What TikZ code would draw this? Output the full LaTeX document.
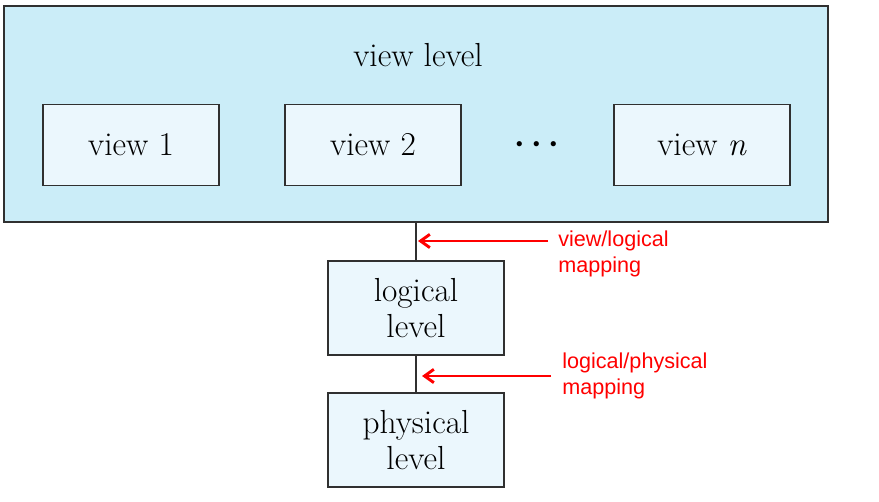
\documentclass[tikz,border=0pt]{standalone}
\usepackage{fontspec}
\newfontfamily\mapfont{Liberation Sans}
\usetikzlibrary{arrows.meta}

\definecolor{outerfill}{HTML}{CBEDF8}
\definecolor{innerfill}{HTML}{EBF7FD}
\definecolor{edge}{HTML}{303030}

\begin{document}
\begin{tikzpicture}[x=0.75pt,y=-0.75pt,
  level/.style={draw=edge,line width=0.9pt,fill=innerfill,inner sep=0pt,
    minimum width=132pt,align=center,font=\fontsize{25}{27}\selectfont},
  maplabel/.style={anchor=north west,inner sep=0pt,align=left,text=red,
    font=\mapfont\fontsize{16.2}{19.5}\selectfont},
  maparrow/.style={red,line width=2.2pt,-{Straight Barb[length=7pt,width=10pt]}}]

\useasboundingbox (0,0) rectangle (879,502);

\def\vh {60.75pt}
\def\lh {70.5pt}

% view level
\node[draw=edge,line width=0.9pt,fill=outerfill,minimum width=618pt,
  minimum height=162pt,inner sep=0pt] (outer) at (416,114) {};
\node[font=\fontsize{25}{27}\selectfont] (title) at (418,55) {view level};

\node[level,minimum height=\vh] (view1) at (131,145) {view 1};
\node[level,minimum height=\vh] (view2) at (373,145) {view 2};
\node[font=\fontsize{27}{27}\selectfont\boldmath] (dots) at (537,145) {$\cdots$};
\node[level,minimum height=\vh] (viewn) at (702,145) {view \textit{n}};

% lower levels
\node[level,minimum height=\lh] (logical) at (416,308) {logical\\level};
\node[level,minimum height=\lh] (physical) at (416,440) {physical\\level};

\draw[edge,line width=0.9pt] (outer.south) -- (logical.north);
\draw[edge,line width=0.9pt] (logical.south) -- (physical.north);

% mappings
\coordinate (vlfrom) at (548,241);
\coordinate (vlto) at (418,241);
\draw[maparrow] (vlfrom) -- (vlto);
\node[maplabel] (vlmap) at (558,231) {view/logical\\mapping};

\coordinate (lpfrom) at (551,376);
\coordinate (lpto) at (422,376);
\draw[maparrow] (lpfrom) -- (lpto);
\node[maplabel] (lpmap) at (562,353) {logical/physical\\mapping};

\end{tikzpicture}
\end{document}
